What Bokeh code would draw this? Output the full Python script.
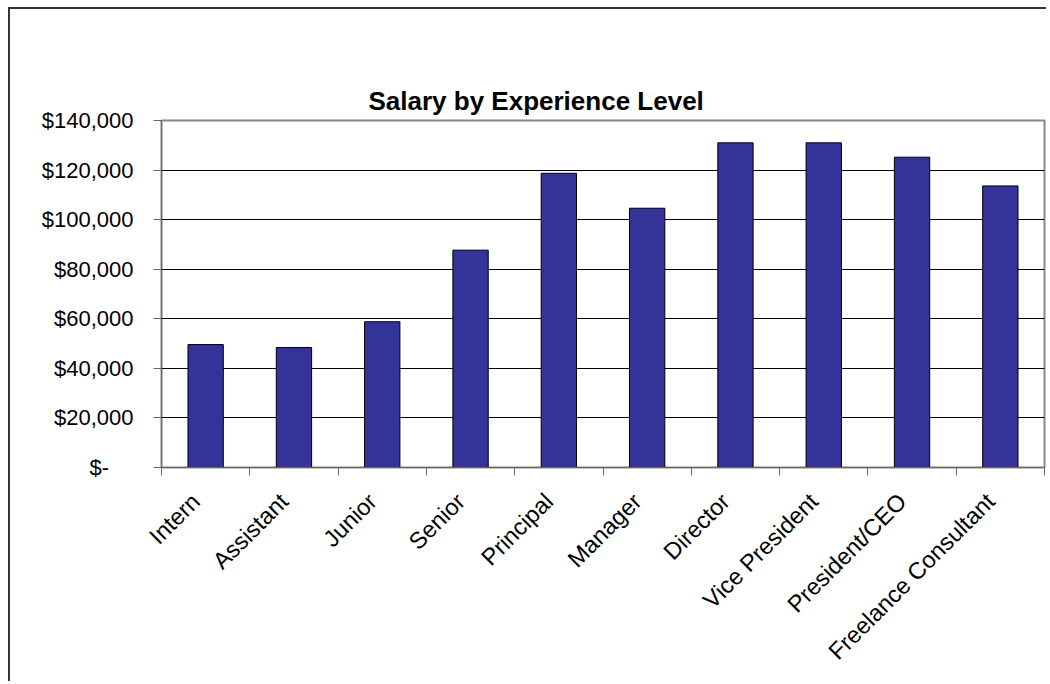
from math import pi
from bokeh.plotting import figure
from bokeh.models import (Range1d, FixedTicker, ColumnDataSource, NumeralTickFormatter,
                          LinearAxis, Title)
from bokeh.embed import file_html
from bokeh.resources import INLINE

# ---- data ----
categories = ["Intern", "Assistant", "Junior", "Senior", "Principal", "Manager",
              "Director", "Vice President", "President/CEO", "Freelance Consultant"]
salaries = [49600, 48400, 58800, 87700, 118700, 104600, 131000, 131000, 125200, 113600]
y_ticks = [0, 20000, 40000, 60000, 80000, 100000, 120000, 140000]
zero_label = "$-\u00a0\u00a0\u00a0\u00a0"
title_text = "Salary by Experience Level"

FONT = "Liberation Sans"

n = len(categories)
slot_centers = [i + 0.5 for i in range(n)]
slot_edges = list(range(n + 1))
# rotated labels end slightly left of the slot centre, as in the original
label_shift = 0.11
label_ticks = [c - label_shift for c in slot_centers]

src = ColumnDataSource(data=dict(x=slot_centers, cat=categories, salary=salaries))

p = figure(width=1038, height=674,
           x_range=Range1d(0, n),
           y_range=Range1d(0, 140000),
           title=None,
           output_backend="svg", toolbar_location=None,
           min_border_left=151, min_border_right=4,
           min_border_top=111, min_border_bottom=216)

p.styles = {"margin-left": "8px", "margin-top": "7px",
            "border-left": "2px solid #333", "border-top": "2px solid #333"}
p.background_fill_color = "white"
p.border_fill_color = "white"
p.outline_line_color = "#888888"
p.outline_line_width = 2

# the figure's own bottom axis (get it before adding anything above)
xax = [a for a in p.below if isinstance(a, LinearAxis)][0]
yax = [a for a in p.left if isinstance(a, LinearAxis)][0]

# empty spacer between the plot area and the title
spacer = LinearAxis(ticker=FixedTicker(ticks=[]), major_tick_out=55, major_tick_in=0,
                    major_tick_line_color=None, minor_tick_line_color=None,
                    axis_line_color=None, major_label_text_font_size="0px",
                    major_label_standoff=0)
p.add_layout(spacer, "above")

p.add_layout(Title(text=title_text, align="left", offset=207, vertical_align="bottom",
                   text_font=FONT, text_font_size="26px", text_font_style="bold",
                   text_color="black"), "above")

p.xgrid.visible = False
p.ygrid.ticker = FixedTicker(ticks=y_ticks)
p.ygrid.grid_line_color = "black"
p.ygrid.grid_line_width = 1

yax.ticker = FixedTicker(ticks=y_ticks)
yax.formatter = NumeralTickFormatter(format="$0,0")
yax.major_label_overrides = {0: zero_label}
yax.major_tick_out = 8
yax.major_tick_in = 0
yax.minor_tick_line_color = None
yax.axis_line_color = "#666666"
yax.major_tick_line_color = "#666666"
yax.major_label_text_font = FONT
yax.major_label_text_font_size = "22px"
yax.major_label_text_color = "black"
yax.major_label_standoff = 20

xax.ticker = FixedTicker(ticks=label_ticks, minor_ticks=slot_edges)
xax.major_label_overrides = {t: name for t, name in zip(label_ticks, categories)}
xax.major_tick_line_color = None
xax.major_tick_out = 0
xax.major_tick_in = 0
xax.minor_tick_out = 8
xax.minor_tick_in = 0
xax.minor_tick_line_color = "#666666"
xax.axis_line_color = "#666666"
xax.major_label_orientation = pi / 4
xax.major_label_text_font = FONT
xax.major_label_text_font_size = "23.5px"
xax.major_label_text_color = "black"
xax.major_label_standoff = 22

p.vbar(x="x", top="salary", width=0.4, bottom=0, source=src,
       fill_color="#333399", line_color="black", line_width=1)

open("out.html", "w").write(file_html(p, INLINE))
